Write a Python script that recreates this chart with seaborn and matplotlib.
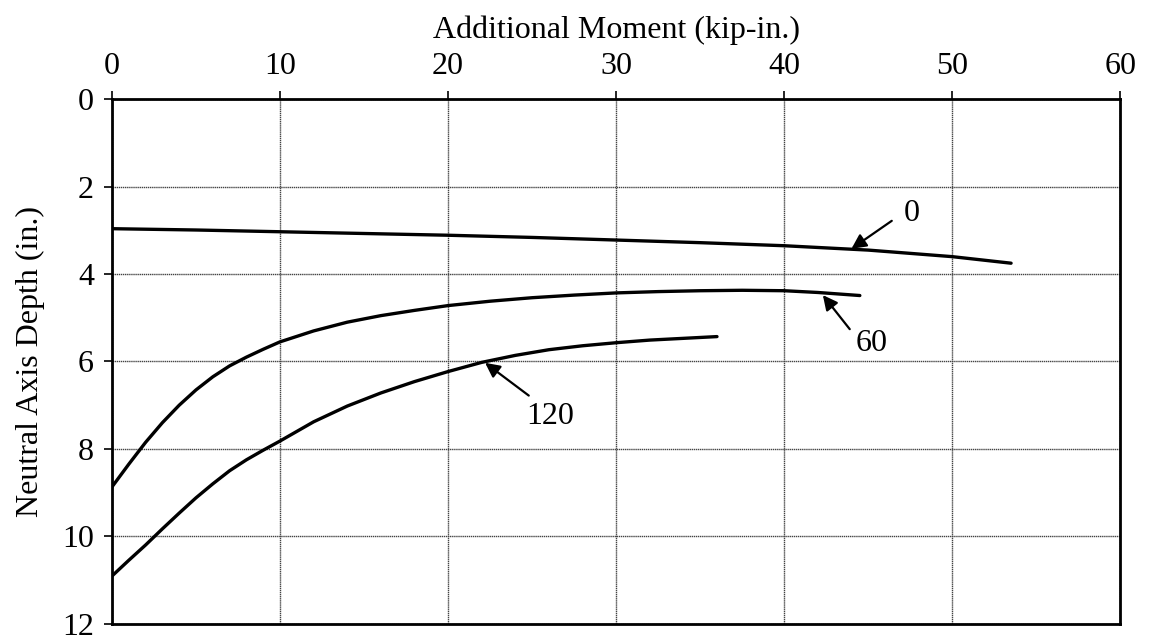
import matplotlib
matplotlib.use("Agg")
import matplotlib.pyplot as plt
import seaborn as sns
import pandas as pd

# Neutral axis depth vs. additional moment, one curve per load level
moment_0 = [0, 5, 10, 15, 20, 25, 30, 35, 40, 45, 50, 53.5]
depth_0 = [2.96, 2.99, 3.03, 3.07, 3.11, 3.16, 3.22, 3.28, 3.35, 3.45, 3.60, 3.75]

moment_60 = [0, 1, 2, 3, 4, 5, 6, 7, 8, 9, 10, 12, 14, 16, 18, 20,
             22.5, 25, 27.5, 30, 32.5, 35, 37.5, 40, 42, 44.5]
depth_60 = [8.87, 8.35, 7.85, 7.4, 7.0, 6.65, 6.35, 6.1, 5.9, 5.72, 5.55,
            5.3, 5.1, 4.95, 4.83, 4.72, 4.62, 4.54, 4.48, 4.43, 4.40,
            4.38, 4.37, 4.38, 4.42, 4.49]

moment_120 = [0, 1, 2, 3, 4, 5, 6, 7, 8, 9, 10, 12, 14, 16, 18, 20, 22,
              24, 26, 28, 30, 32, 34, 36]
depth_120 = [10.91, 10.55, 10.2, 9.83, 9.47, 9.12, 8.8, 8.5, 8.25, 8.03,
             7.82, 7.38, 7.02, 6.72, 6.46, 6.23, 6.02, 5.86, 5.73, 5.64,
             5.57, 5.51, 5.47, 5.43]

curve_labels = ["0", "60", "120"]
label_xy = [(47.6, 2.62), (45.2, 5.58), (26.1, 7.26)]
arrow_tip = [(44.0, 3.42), (42.3, 4.48), (22.2, 6.03)]
arrow_tail = [(46.4, 2.78), (43.9, 5.26), (24.8, 6.78)]

x_ticks = [0, 10, 20, 30, 40, 50, 60]
y_ticks = [0, 2, 4, 6, 8, 10, 12]

sns.set_style("white")
plt.rcParams["font.family"] = ["Liberation Serif", "DejaVu Serif"]
plt.rcParams["text.color"] = "black"
plt.rcParams["axes.labelcolor"] = "black"
plt.rcParams["xtick.color"] = "black"
plt.rcParams["ytick.color"] = "black"

fig = plt.figure(figsize=(11.63, 6.37), dpi=100)
ax = fig.add_axes([0.0963, 0.021, 0.867, 0.823])

frames = []
for lab, xs, ys in zip(curve_labels, [moment_0, moment_60, moment_120],
                       [depth_0, depth_60, depth_120]):
    frames.append(pd.DataFrame({"moment": xs, "depth": ys, "load": lab}))
df = pd.concat(frames, ignore_index=True)

sns.lineplot(data=df, x="moment", y="depth", units="load", estimator=None,
             color="black", linewidth=2.4, sort=False, ax=ax, legend=False)

ax.set_xlim(0, 60)
ax.set_ylim(12, 0)
ax.set_xticks(x_ticks)
ax.set_yticks(y_ticks)
ax.xaxis.tick_top()
ax.xaxis.set_label_position("top")
ax.set_xlabel("Additional Moment (kip-in.)", fontsize=23, labelpad=10, color="black")
ax.set_ylabel("Neutral Axis Depth (in.)", fontsize=23, labelpad=12, color="black")
ax.tick_params(axis="both", labelsize=23, direction="out", length=6,
               width=1.2, color="black", labelcolor="black", pad=7)
ax.tick_params(axis="x", top=True, bottom=False)
ax.tick_params(axis="y", left=True, right=False)

ax.grid(True, color="#444444", linewidth=1.0, linestyle=(0, (1, 0.5)))
for side in ["left", "right", "top", "bottom"]:
    ax.spines[side].set_visible(True)
    ax.spines[side].set_color("black")
    ax.spines[side].set_linewidth(2.0)

for lab, (lx, ly), tip, tail in zip(curve_labels, label_xy, arrow_tip, arrow_tail):
    ax.annotate("", xy=tip, xytext=tail,
                arrowprops=dict(arrowstyle="-|>", color="black", lw=1.6,
                                mutation_scale=22, shrinkA=0, shrinkB=0))
    ax.text(lx, ly, lab, fontsize=23, ha="center", va="center", color="black")

fig.savefig("out.png", dpi=100)
